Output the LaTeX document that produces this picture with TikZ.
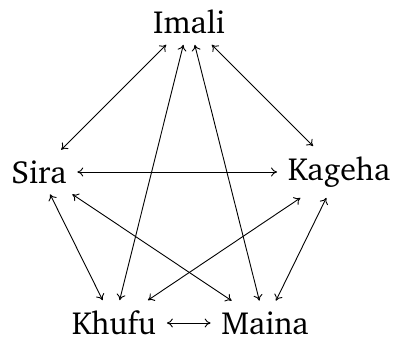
\documentclass[tikz,border=0pt]{standalone}
\usepackage[T1]{fontenc}
\usepackage{charter}
\usetikzlibrary{arrows.meta}
\begin{document}
\begin{tikzpicture}[x=1pt,y=-1pt,
  person/.style={font=\fontsize{32}{38}\selectfont,inner sep=10.5pt},
  link/.style={{To[length=6pt,width=9pt]}-{To[length=6pt,width=9pt]},line width=0.9pt}]
\useasboundingbox (0,0) rectangle (393,339);
\node[person] (imali) at (189,22) {Imali};
\node[person] (sira) at (39,172) {Sira};
\node[person] (kageha) at (339,172) {Kageha};
\node[person] (khufu) at (114,323) {Khufu};
\node[person] (maina) at (265,323) {Maina};
\draw[link] (imali) -- (sira);
\draw[link] (imali) -- (kageha);
\draw[link] (imali) -- (khufu);
\draw[link] (imali) -- (maina);
\draw[link] (sira) -- (kageha);
\draw[link] (sira) -- (khufu);
\draw[link] (sira) -- (maina);
\draw[link] (kageha) -- (khufu);
\draw[link] (kageha) -- (maina);
\draw[link] (khufu) -- (maina);
\end{tikzpicture}
\end{document}
